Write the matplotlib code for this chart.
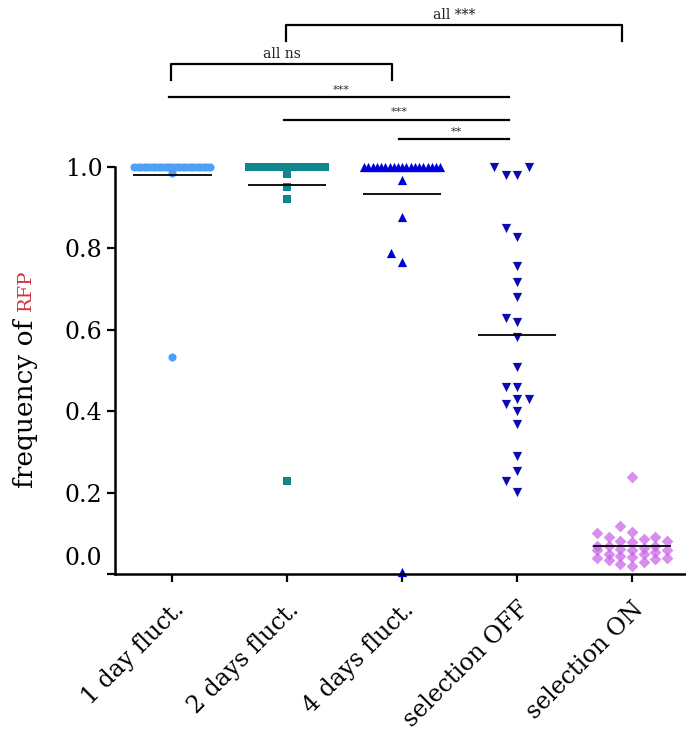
#!/usr/bin/env python3
"""Scatter of RFP frequency per regime, with mean lines and significance bars."""

import numpy as np
import matplotlib
matplotlib.use('Agg')
import matplotlib.pyplot as plt
from matplotlib.transforms import ScaledTranslation

# Data
categories = ['1 day fluct.', '2 days fluct.', '4 days fluct.', 'selection OFF', 'selection ON']
day1 = [1.0] * 23 + [0.985, 0.533]
day2 = [1.0] * 17 + [0.984, 0.952, 0.922, 0.229]
day4 = [1.0] * 19 + [0.968, 0.877, 0.789, 0.767, 0.006]
sel_off = [1.0, 1.0, 0.98, 0.98, 0.85, 0.828, 0.757, 0.718, 0.681, 0.63, 0.62,
           0.583, 0.509, 0.46, 0.46, 0.43, 0.43, 0.418, 0.40, 0.369, 0.29,
           0.252, 0.229, 0.202]
sel_on = [0.239, 0.118, 0.103, 0.10, 0.09, 0.09, 0.085, 0.08, 0.08, 0.078,
          0.07, 0.07, 0.068, 0.065, 0.062, 0.06, 0.06, 0.058, 0.055, 0.05,
          0.048, 0.045, 0.042, 0.04, 0.04, 0.038, 0.035, 0.03, 0.025, 0.02]
groups = [day1, day2, day4, sel_off, sel_on]

# pairwise tests (from, to, label) and group brackets (from, to, label)
pair_tests = [(0, 3, '***'), (1, 3, '***'), (2, 3, '**')]
brackets = [(0, 2, 'all ns'), (1, 4, 'all ***')]

# styles
colors = ['#4f9ff7', '#10878f', '#0000dd', '#0b0bb0', '#c85fe8']
markers = ['o', 's', '^', 'v', 'D']
msizes = [34, 36, 44, 44, 36]
alphas = [1.0, 1.0, 1.0, 1.0, 0.7]
min_dist = [11.0, 11.0, 11.0, 11.0, 9.0]

PX_Y = 407.0    # pixels per unit y
PX_X = 114.75   # pixels per category


def swarm(vals, s=11.5, d=11.0, hw=38.0):
    """Greedy beeswarm offsets (category units); large ties are spread evenly."""
    vals = np.asarray(vals, dtype=float)
    xs = np.zeros(len(vals))
    placed = []
    uniq, counts = np.unique(vals, return_counts=True)
    big = [u for u, c in zip(uniq, counts) if c > 2 * hw / s + 1]
    for u in big:
        idx = np.where(vals == u)[0]
        offs = np.linspace(-hw, hw, len(idx))
        xs[idx] = offs
        placed += [(o, u * PX_Y) for o in offs]
    cands = [0.0]
    k = 1
    while k * s <= hw:
        cands += [-k * s, k * s]
        k += 1
    for i in np.argsort(vals, kind='stable'):
        if vals[i] in big:
            continue
        y = vals[i] * PX_Y
        best, best_d = 0.0, -1
        for c in cands:
            md = min([np.hypot(c - px, y - py) for px, py in placed] or [1e9])
            if md >= d:
                best = c
                break
            if md > best_d + 0.5:
                best, best_d = c, md
        xs[i] = best
        placed.append((best, y))
    return xs / PX_X


fig = plt.figure(figsize=(6.86, 7.40), dpi=100)
ax = fig.add_axes([115 / 686, 1 - 574 / 740, 1 - 115 / 686, 407 / 740])
plt.rcParams['font.family'] = 'DejaVu Serif'

for i, vals in enumerate(groups):
    xs = i + swarm(vals, d=min_dist[i])
    ax.scatter(xs, vals, marker=markers[i], s=msizes[i], color=colors[i],
               alpha=alphas[i], linewidths=0, clip_on=False, zorder=2)
    ax.hlines(np.mean(vals), i - 0.34, i + 0.34, color='black', lw=1.3, zorder=3)

ax.set_xlim(-0.5, 4.47)
ax.set_ylim(0, 1.0)
ax.set_yticks([0.0, 0.2, 0.4, 0.6, 0.8, 1.0])
ax.set_yticklabels(['0.0', '0.2', '0.4', '0.6', '0.8', '1.0'],
                   family='DejaVu Serif', fontsize=17)
ax.set_xticks(range(len(categories)))
ax.set_xticklabels(categories, rotation=45, ha='right', rotation_mode='anchor',
                   family='DejaVu Serif', fontsize=17)
ax.tick_params(axis='both', length=6, width=1.6, color='black')
ax.tick_params(axis='x', pad=11)
ax.tick_params(axis='y', pad=3)
for side in ['top', 'right']:
    ax.spines[side].set_visible(False)
for side in ['left', 'bottom']:
    ax.spines[side].set_linewidth(1.8)

# the 0.0 label sits a little above its tick
zero_lab = ax.get_yticklabels()[0]
zero_lab.set_transform(zero_lab.get_transform()
                       + ScaledTranslation(0, 18 / 100, fig.dpi_scale_trans))

# significance lines
line_y = [1.171, 1.115, 1.068]
text_y = [1.178, 1.122, 1.075]
for (a, b, lab), ly, ty in zip(pair_tests, line_y, text_y):
    ax.plot([a - 0.03, b - 0.07], [ly, ly], color='black', lw=1.6, clip_on=False)
    ax.text((a + b) / 2 - 0.03, ty, lab, ha='center', va='bottom', fontsize=8,
            family='DejaVu Serif', color='#333333')

br_top = [1.253, 1.349]
br_leg = 0.04
for (a, b, lab), top in zip(brackets, br_top):
    x0, x1 = a - 0.01, b - 0.09
    ax.plot([x0, x0, x1, x1], [top - br_leg, top, top, top - br_leg],
            color='black', lw=1.6, clip_on=False, solid_joinstyle='round')
    ax.text((x0 + x1) / 2, top + 0.008, lab, ha='center', va='bottom', fontsize=10,
            family='DejaVu Serif', color='#222222')

# y label: "frequency of" + red "RFP"
t1 = fig.text(26 / 686, 1 - 488 / 740, 'frequency of ', rotation=90,
              rotation_mode='anchor', ha='left', va='center', fontsize=19,
              family='DejaVu Serif')
fig.canvas.draw()
bb = t1.get_window_extent().transformed(fig.transFigure.inverted())
fig.text(26 / 686, bb.y1, 'RFP', rotation=90, rotation_mode='anchor',
         ha='left', va='center', fontsize=14, family='DejaVu Serif',
         color='#d1343c')

fig.savefig('out.png', dpi=100)
